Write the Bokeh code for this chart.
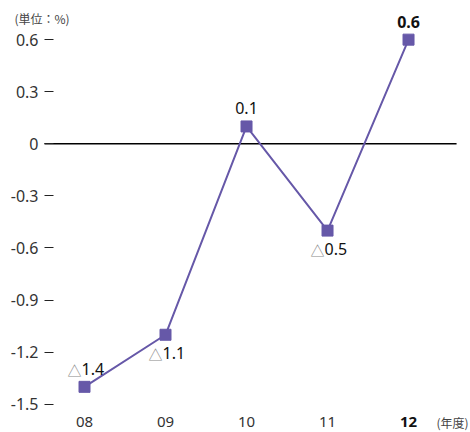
from bokeh.plotting import figure
from bokeh.models import Range1d, FixedTicker, Label, LabelSet, ColumnDataSource
from bokeh.core.properties import value
from bokeh.embed import file_html
from bokeh.resources import INLINE

# Fiscal years and year-on-year change (%)
years = ["08", "09", "10", "11", "12"]
change = [-1.4, -1.1, 0.1, -0.5, 0.6]
y_ticks = [0.6, 0.3, 0, -0.3, -0.6, -0.9, -1.2, -1.5]
label_above = [True, False, True, False, True]

PURPLE = "#6658a8"
NUM_FONT = "Noto Sans"
JP_FONT = "Noto Sans CJK JP"

xs = list(range(len(years)))
AXIS_X = -0.494   # where the value axis sits, left of the first year

p = figure(width=470, height=432, output_backend="svg", toolbar_location=None,
           x_range=Range1d(-1.037, 4.765), y_range=Range1d(-1.663, 0.8255),
           min_border_left=0, min_border_right=0, min_border_top=0,
           min_border_bottom=0, x_axis_location=None)
p.outline_line_color = None
p.grid.grid_line_color = None
p.background_fill_color = "white"
p.border_fill_color = "white"

yax = p.yaxis[0]
yax.fixed_location = AXIS_X
yax.ticker = FixedTicker(ticks=y_ticks)
yax.major_label_overrides = {t: ("0" if t == 0 else f"{t:g}") for t in y_ticks}
yax.axis_line_color = None
yax.minor_tick_line_color = None
yax.major_tick_in = 9
yax.major_tick_out = 0
yax.major_tick_line_color = "#222222"
yax.major_tick_line_width = 1.2
yax.major_label_standoff = 6
yax.major_label_text_font = NUM_FONT
yax.major_label_text_font_size = "16px"
yax.major_label_text_color = "#333333"

# zero baseline
p.segment(x0=[AXIS_X], y0=[0], x1=[4.593], y1=[0], line_color="black", line_width=1.4)

# series
p.line(xs, change, line_color=PURPLE, line_width=2)
p.scatter(xs, change, marker="square", size=11, fill_color=PURPLE, line_color=PURPLE)

# value labels: negatives carry a grey triangle prefix
pos = [i for i, v in enumerate(change) if v >= 0]
neg = [i for i, v in enumerate(change) if v < 0]
last = len(change) - 1

def offs(idx):
    return [18 if label_above[i] else -18 for i in idx]

pos_src = ColumnDataSource(dict(
    x=[xs[i] for i in pos], y=[change[i] for i in pos],
    t=[f"{change[i]:.1f}" for i in pos], dy=offs(pos),
    fs=["bold" if i == last else "normal" for i in pos]))
p.add_layout(LabelSet(x="x", y="y", text="t", y_offset="dy", source=pos_src,
                      text_align="center", text_baseline="middle",
                      text_font=value(NUM_FONT), text_font_size="16px",
                      text_color="#111111", text_font_style="fs"))

neg_src = ColumnDataSource(dict(
    x=[xs[i] for i in neg], y=[change[i] for i in neg],
    t=[f"{abs(change[i]):.1f}" for i in neg], tri=["△"] * len(neg),
    dy=offs(neg), dyt=[d - 1 for d in offs(neg)]))
p.add_layout(LabelSet(x="x", y="y", text="t", y_offset="dy", x_offset=-3,
                      source=neg_src, text_align="left", text_baseline="middle",
                      text_font=value(NUM_FONT), text_font_size="16px",
                      text_color="#111111"))
p.add_layout(LabelSet(x="x", y="y", text="tri", y_offset="dyt", x_offset=-3,
                      source=neg_src, text_align="right", text_baseline="middle",
                      text_font=value(JP_FONT), text_font_size="14px",
                      text_color="#888888"))

# category labels along the bottom
cat_src = ColumnDataSource(dict(
    x=xs, y=[y_ticks[-1]] * len(xs), t=years,
    fs=["bold" if i == last else "normal" for i in xs],
    c=["#111111" if i == last else "#333333" for i in xs]))
p.add_layout(LabelSet(x="x", y="y", text="t", y_offset=-18, source=cat_src,
                      text_align="center", text_baseline="middle",
                      text_font=value(NUM_FONT), text_font_size="15px",
                      text_color="c", text_font_style="fs"))

p.add_layout(Label(x=xs[-1], y=y_ticks[-1], x_offset=44, y_offset=-18, text="(年度)",
                   text_align="center", text_baseline="middle",
                   text_font=JP_FONT, text_font_size="12px", text_color="#444444"))

# unit note in the top-left corner
p.add_layout(Label(x=14, y=414, x_units="screen", y_units="screen", text="(単位：%)",
                   text_font=JP_FONT, text_font_size="12px", text_color="#444444",
                   text_baseline="middle"))

open("out.html", "w").write(file_html(p, INLINE))
